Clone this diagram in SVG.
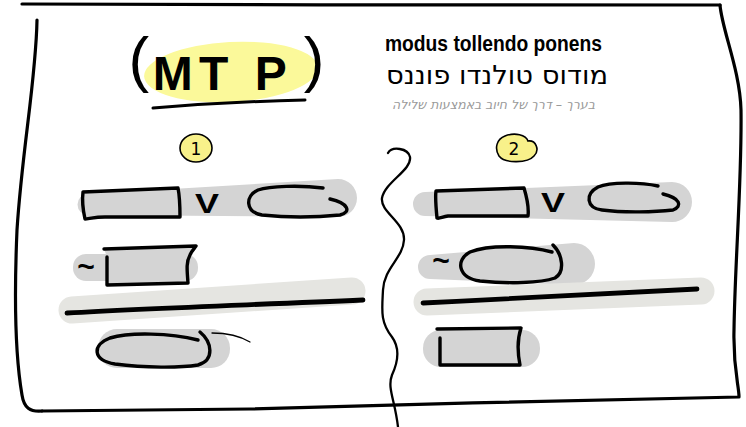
<svg xmlns="http://www.w3.org/2000/svg" width="746" height="427" viewBox="0 0 746 427">
  <style>
    .ink { fill: none; stroke: #000; stroke-linecap: round; stroke-linejoin: round; }
    .frame { stroke-width: 3.2; }
    .shape { fill: #d4d4d4; stroke: #000; stroke-width: 3.4; stroke-linecap: round; stroke-linejoin: round; }
    .pill { fill: #d4d4d4; }
    .bar-bg { fill: none; stroke: #e5e5e1; stroke-width: 27; stroke-linecap: round; }
    .bar { fill: none; stroke: #000; stroke-width: 4.8; stroke-linecap: round; }
    .badge { fill: #f8f18a; stroke: #000; stroke-width: 1.6; }
    .hand { font-family: "Liberation Sans", "DejaVu Sans", sans-serif; fill: #000; }
    .heb { font-family: "DejaVu Sans", "Liberation Sans", sans-serif; }
  </style>

  <!-- page frame -->
  <g id="frame">
    <path class="ink frame" d="M22,4 C250,6 500,4 720,5"/>
    <path class="ink frame" d="M720,5 C722,30 740,70 741,110 C742,180 735,260 734,330 C733,370 739,385 739,397 C600,400 400,404 250,409 L42,411"/>
    <path class="ink frame" d="M37,20 C36,80 22,150 17,230 C14,300 16,360 22,395 C24,408 30,412 42,411"/>
  </g>

  <!-- title -->
  <g id="title">
    <ellipse cx="231" cy="72" rx="87" ry="30" fill="#fbf99a" transform="rotate(-3 231 72)"/>
    <text class="hand" font-weight="bold" text-anchor="middle">
      <tspan x="141" y="80" font-size="62" font-weight="normal">(</tspan>
      <tspan x="175" y="90" font-size="48">M</tspan>
      <tspan x="216" y="90" font-size="48">T</tspan>
      <tspan x="273" y="90" font-size="48">P</tspan>
      <tspan x="314" y="80" font-size="62" font-weight="normal">)</tspan>
    </text>
    <path class="ink" stroke-width="3" d="M153,108 C200,104 260,101 305,100"/>
  </g>

  <!-- subtitle -->
  <g id="subtitle">
    <text class="hand" x="385" y="51" font-size="22" font-weight="bold" textLength="217" lengthAdjust="spacingAndGlyphs">modus tollendo ponens</text>
    <text class="hand heb" x="608" y="84" font-size="26" direction="rtl" textLength="222" lengthAdjust="spacingAndGlyphs">מודוס טולנדו פוננס</text>
    <text class="heb" x="595" y="109" font-size="12" fill="#9a9a9a" direction="rtl" font-style="italic" textLength="203" lengthAdjust="spacingAndGlyphs">בערך –  דרך של חיוב באמצעות שלילה</text>
  </g>

  <!-- divider -->
  <g id="divider">
    <path class="ink" stroke-width="2.3" d="M388,153 C392,146 408,148 410,157 C412,170 385,182 382,198 C380,212 405,222 404,240 C403,258 384,268 383,290 C382,310 380,322 392,337 C400,348 398,362 392,375 C387,388 395,400 398,427"/>
  </g>

  <!-- case 1 -->
  <g id="badge-1">
    <ellipse class="badge" cx="196" cy="148" rx="16" ry="14"/>
    <text class="heb" x="196" y="155" font-size="17" text-anchor="middle">1</text>
  </g>

  <g id="premise-1-left">
    <path class="pill" d="M88,194 L338,179 A19,19 0 0 1 338,217 L88,215 A10.5,10.5 0 0 1 88,194 Z"/>
    <path class="shape" d="M83,192 L178,188 C180,198 180,208 180,217 L105,217 C95,217 88,219 85,219 C83,210 82,200 83,192 Z"/>
    <text class="hand" x="207" y="213" font-size="28" font-weight="bold" text-anchor="middle" textLength="24" lengthAdjust="spacingAndGlyphs">V</text>
    <path class="shape" d="M323,188 C300,185 270,186 258,190 C245,196 245,212 262,215 C290,218 320,217 340,215 C352,212 348,203 330,199"/>
  </g>

  <g id="premise-2-left">
    <rect class="pill" x="73" y="254" width="125" height="27" rx="13"/>
    <text class="hand" x="86" y="277" font-size="30" font-weight="bold" text-anchor="middle">~</text>
    <path class="shape" d="M107,257 L107,285 L188,283 C187,270 186,262 190,255 C192,250 195,248 196,246 L104,249"/>
  </g>

  <g id="rule-left">
    <path class="bar-bg" d="M72,310 L352,291"/>
    <path class="bar" d="M67,313 C150,308 250,305 363,300"/>
  </g>

  <g id="conclusion-left">
    <rect class="pill" x="98" y="329" width="132" height="39" rx="19"/>
    <path class="ink" stroke="#bbb" stroke-width="1.3" d="M212,333 C225,333 240,336 250,342"/>
    <path class="shape" d="M198,340 C170,333 130,332 110,338 C92,345 92,360 115,364 C145,368 180,368 198,365 C215,360 212,342 200,332"/>
  </g>

  <!-- case 2 -->
  <g id="badge-2">
    <path class="badge" d="M505,136 C515,132 526,135 528,141 C536,140 540,150 534,156 C528,163 505,164 499,156 C494,148 497,139 505,136 Z"/>
    <text class="heb" x="514" y="155" font-size="17" text-anchor="middle">2</text>
  </g>

  <g id="premise-1-right">
    <path class="pill" d="M425,192 L672,182 A20,20 0 0 1 672,222 L425,216 A12,12 0 0 1 425,192 Z"/>
    <path class="shape" d="M436,191 L524,188 C527,198 529,208 528,216 L448,216 C442,217 439,219 437,218 C436,208 435,198 436,191 Z"/>
    <text class="hand" x="553" y="212" font-size="28" font-weight="bold" text-anchor="middle" textLength="24" lengthAdjust="spacingAndGlyphs">V</text>
    <path class="shape" d="M658,186 C640,182 610,182 598,187 C585,194 586,208 602,210 C625,213 655,212 673,210 C683,206 680,198 663,194"/>
  </g>

  <g id="premise-2-right">
    <path class="pill" d="M430,255 L574,243 A21,21 0 0 1 574,285 L430,279 A12,12 0 0 1 430,255 Z"/>
    <text class="hand" x="441" y="271" font-size="30" font-weight="bold" text-anchor="middle">~</text>
    <path class="shape" d="M552,252 C530,246 490,244 470,252 C455,260 458,278 480,281 C510,284 540,283 555,278 C565,272 563,255 553,245"/>
  </g>

  <g id="rule-right">
    <path class="bar-bg" d="M427,302 L701,291"/>
    <path class="bar" d="M423,303 C520,298 620,293 697,289"/>
  </g>

  <g id="conclusion-right">
    <rect class="pill" x="423" y="330" width="117" height="37" rx="18"/>
    <path class="shape" d="M440,338 L440,365 L520,365 C518,355 517,340 521,328 L437,329"/>
  </g>
</svg>
